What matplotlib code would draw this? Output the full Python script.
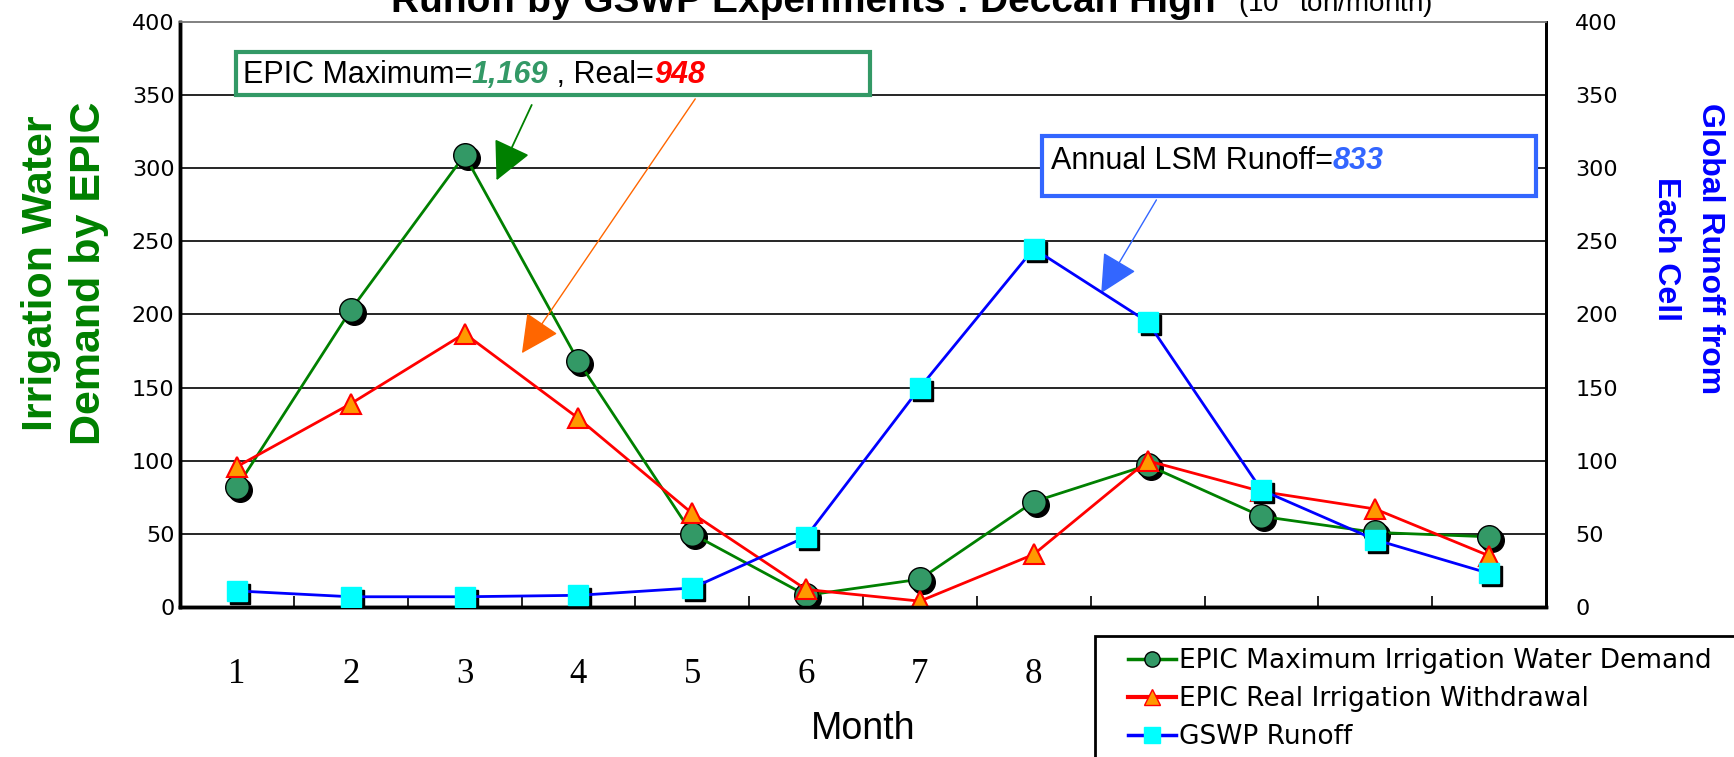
import numpy as np
import matplotlib
matplotlib.use("Agg")
import matplotlib.pyplot as plt
from matplotlib import transforms
from matplotlib.patches import Rectangle, FancyArrowPatch
from matplotlib.lines import Line2D

# data
months = list(range(1, 13))
epic_max = [82, 203, 309, 168, 50, 8, 19, 72, 97, 62, 51, 48]
epic_real = [96, 139, 187, 129, 64, 12, 4, 36, 100, 79, 67, 35]
gswp_runoff = [11, 7, 7, 8, 13, 48, 150, 245, 195, 80, 46, 23]
y_ticks = list(range(0, 401, 50))
shown_months = 8  # labels 9-12 sit under the legend box in the source

W, H = 1734, 757
GREEN, SEA = "#008000", "#339966"
RED, ORANGE = "#FF0000", "#FF9900"
BLUE, CYAN, LBLUE = "#0000FF", "#00FFFF", "#3366FF"


def fpx(x, y):
    """figure pixel (from top-left) -> figure fraction"""
    return x / W, 1 - y / H


fig = plt.figure(figsize=(W / 100, H / 100), dpi=100)
ax = fig.add_axes([180 / W, 1 - 607 / H, 1366 / W, 585 / H])
ax2 = ax.twinx()

# shadow offset for 3d-looking markers
shadow = transforms.offset_copy(ax.transData, fig=fig, x=3, y=-3, units="dots")
shadow2 = transforms.offset_copy(ax2.transData, fig=fig, x=3, y=-3, units="dots")

ax.plot(months, epic_max, ls="none", marker="o", ms=17, color="k", transform=shadow, zorder=3)
ax.plot(months, epic_max, color=GREEN, lw=2, marker="o", ms=17, mfc=SEA, mec="k", mew=1, zorder=4)
ax.plot(months, epic_real, color=RED, lw=2, marker="^", ms=14, mfc=ORANGE, mec=RED, mew=1.5, zorder=5)
ax2.plot(months, gswp_runoff, ls="none", marker="s", ms=15, color="k", transform=shadow2, zorder=3)
ax2.plot(months, gswp_runoff, color=BLUE, lw=2, marker="s", ms=15, mfc=CYAN, mec=CYAN, zorder=4)

for a in (ax, ax2):
    a.set_xlim(0.5, 12.5)
    a.set_ylim(0, 400)
    a.set_yticks(y_ticks)
    a.patch.set_visible(False)
for y in y_ticks[1:-1]:
    ax.axhline(y, color="k", lw=1.2, zorder=1)

ax.set_xticks(months)
ax.set_xticklabels([str(m) for m in months], fontfamily="Liberation Serif", fontsize=25)
for lab in ax.get_xticklabels()[shown_months:]:
    lab.set_visible(False)
ax.set_xticks(np.arange(1.5, 12, 1), minor=True)
ax.tick_params(axis="x", which="major", length=0, pad=37)
ax.tick_params(axis="x", which="minor", length=8, width=1.2, direction="in")
ax.tick_params(axis="y", length=0, pad=4, labelsize=16)
ax2.tick_params(axis="y", length=0, pad=21, labelsize=16)

for a in (ax, ax2):
    a.spines["top"].set_color("#808080")
    a.spines["top"].set_linewidth(1.2)
    a.spines["left"].set_linewidth(2.5)
    a.spines["bottom"].set_linewidth(2.5)
    a.spines["right"].set_linewidth(2)

ax.set_xlabel("Month", fontfamily="Liberation Sans", fontsize=27, labelpad=14)

# axis titles
fig.text(*fpx(65, 273), "Irrigation Water\nDemand by EPIC", rotation=90, ha="center", va="center",
         color=GREEN, fontsize=31, fontweight="bold", fontfamily="Liberation Sans", linespacing=1.28)
fig.text(*fpx(1688, 249), "Global Runoff from\nEach Cell", rotation=270, ha="center", va="center",
         color=BLUE, fontsize=23, fontweight="bold", fontfamily="Liberation Sans", linespacing=1.65)

# title, cut off at the top edge as in the source
fig.text(*fpx(803, 12), "Runoff by GSWP Experiments : Deccan High", ha="center", va="baseline",
         fontsize=28, fontweight="bold", fontfamily="Liberation Sans")
fig.text(*fpx(1238, 12), "(10$^6$ ton/month)", ha="left", va="baseline", fontsize=20,
         fontfamily="Liberation Sans")


def chain(x, y, parts, size):
    t = ax.text(x, y, parts[0][0], color=parts[0][1], fontsize=size, va="center",
                fontfamily="Liberation Sans", zorder=8, **parts[0][2])
    for s, c, kw in parts[1:]:
        t = ax.annotate(s, xy=(1, 0), xycoords=t, va="bottom", color=c, fontsize=size,
                        fontfamily="Liberation Sans", zorder=8, **kw)


# annotation boxes
ax.add_patch(Rectangle((0.99, 350), 5.57, 29.5, fc="white", ec=SEA, lw=3, zorder=7, clip_on=False))
chain(1.05, 364, [("EPIC Maximum=", "k", {}),
                  ("1,169", SEA, dict(fontweight="bold", fontstyle="italic")),
                  (" , Real=", "k", {}),
                  ("948", RED, dict(fontweight="bold", fontstyle="italic"))], 22)

ax.add_patch(Rectangle((8.07, 281), 4.34, 41, fc="white", ec=LBLUE, lw=3, zorder=7, clip_on=False))
chain(8.15, 305, [("Annual LSM Runoff=", "k", {}),
                  ("833", LBLUE, dict(fontweight="bold", fontstyle="italic"))], 22)

arrows = [((3.60, 345), (3.27, 290), GREEN, 1.3),
          ((5.04, 349), (3.49, 172), "#FF6600", 1.0),
          ((9.09, 280), (8.58, 213), LBLUE, 1.0)]
for start, end, c, lw in arrows:
    ax.add_patch(FancyArrowPatch(start, end, arrowstyle="-|>,head_length=1.1,head_width=0.55",
                                 mutation_scale=22, color=c, lw=lw, zorder=6))

# legend box in the lower right corner, running off the figure edges
x0, y0 = fpx(1095, 636)
fig.patches.append(Rectangle((x0, -0.05), 1.1 - x0, y0 + 0.05, transform=fig.transFigure,
                             fc="white", ec="k", lw=2, zorder=15))
handles = [Line2D([], [], color=GREEN, lw=2.5, marker="o", ms=11, mfc=SEA, mec="k"),
           Line2D([], [], color=RED, lw=3, marker="^", ms=11, mfc=ORANGE, mec=RED),
           Line2D([], [], color=BLUE, lw=2.5, marker="s", ms=11, mfc=CYAN, mec=CYAN)]
labels = ["EPIC Maximum Irrigation Water Demand", "EPIC Real Irrigation Withdrawal", "GSWP Runoff"]
leg = fig.legend(handles, labels, loc="upper left", bbox_to_anchor=fpx(1128, 648),
                 fontsize=19, frameon=False, handlelength=1.8, handletextpad=0.15,
                 labelspacing=0.45, borderpad=0, borderaxespad=0)
leg.set_zorder(20)

fig.savefig("out.png", dpi=100)
